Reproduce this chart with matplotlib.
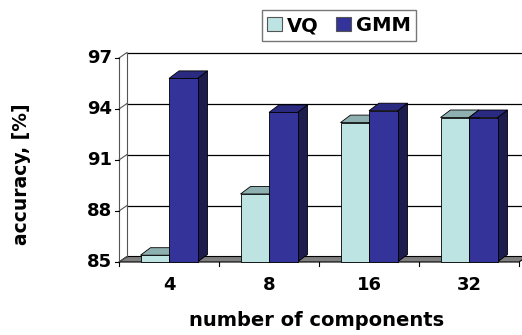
import matplotlib
matplotlib.use("Agg")
import matplotlib.pyplot as plt
from matplotlib.patches import Polygon, Rectangle
from matplotlib.lines import Line2D

categories = ["4", "8", "16", "32"]
series_names = ["VQ", "GMM"]
vq_values = [85.4, 89.0, 93.2, 93.5]
gmm_values = [95.8, 93.8, 93.9, 93.5]
y_ticks = [85, 88, 91, 94, 97]

FRONT = {"VQ": "#BEE3E3", "GMM": "#333399"}
TOP = {"VQ": "#8FB0B0", "GMM": "#2A2A80"}
SIDE = {"VQ": "#7A9A9A", "GMM": "#1C1C4E"}
EDGE = "black"

plt.rcParams["font.family"] = ["DejaVu Sans"]
plt.rcParams["font.weight"] = "bold"

W, H = 522, 335
fig = plt.figure(figsize=(W / 100, H / 100), dpi=100)
# axes box in pixels: left 119, right 519, y(85)=262, y(97)=58
left_px, right_px, bot_px, top_px = 119, 519, 262, 58
ax = fig.add_axes([left_px / W, (H - bot_px) / H,
                   (right_px - left_px) / W, (bot_px - top_px) / H])
ymin, ymax = y_ticks[0], y_ticks[-1]
ncat = len(categories)
ax.set_xlim(0, ncat)
ax.set_ylim(ymin, ymax)
for s in ax.spines.values():
    s.set_visible(False)

px_x = ncat / (right_px - left_px)          # data units per pixel (x)
px_y = (ymax - ymin) / (bot_px - top_px)    # data units per pixel (y)

# depth offsets (pixels) for the walls/floor and for the columns
wall_dx, wall_dy = 8 * px_x, 5.5 * px_y
bar_dx, bar_dy = 10 * px_x, 7.5 * px_y

# floor
floor = Polygon([(0, ymin), (ncat, ymin), (ncat + wall_dx, ymin + wall_dy),
                 (wall_dx, ymin + wall_dy)], closed=True,
                facecolor="#808080", edgecolor=EDGE, lw=0.8, clip_on=False, zorder=1)
ax.add_patch(floor)

# back wall grid lines and left wall
ext = ncat + 0.2
for v in y_ticks[1:]:
    ax.add_line(Line2D([wall_dx, ext], [v + wall_dy, v + wall_dy], color=EDGE, lw=0.9,
                       clip_on=False, zorder=1))
for v in y_ticks:
    ax.add_line(Line2D([0, wall_dx], [v, v + wall_dy], color="#555555", lw=0.8,
                       clip_on=False, zorder=1))
ax.add_line(Line2D([wall_dx, wall_dx], [ymin + wall_dy, ymax + wall_dy], color="#555555",
                   lw=0.8, clip_on=False, zorder=1))
ax.add_line(Line2D([0, 0], [ymin, ymax], color="#555555", lw=0.8, clip_on=False, zorder=1))

# front axis tick marks
for v in y_ticks:
    ax.add_line(Line2D([-4 * px_x, 0], [v, v], color=EDGE, lw=0.8, clip_on=False))
for i in range(ncat + 1):
    ax.add_line(Line2D([i, i], [ymin, ymin - 4 * px_y], color=EDGE, lw=0.8, clip_on=False))

ax.set_xticks([])
ax.set_yticks([])
for v in y_ticks:
    ax.text(-7 * px_x, v, str(v), ha="right", va="center", fontsize=13, fontweight="bold")
for i, c in enumerate(categories):
    ax.text(i + 0.5, ymin - 23 * px_y, c, ha="center", va="center", fontsize=13,
            fontweight="bold")

bar_w = 0.285
for i in range(ncat):
    for j, (name, vals) in enumerate(zip(series_names, [vq_values, gmm_values])):
        v = vals[i]
        x0 = i + 0.5 - bar_w + j * bar_w
        x1 = x0 + bar_w
        z = 3 + i * 2 + j
        ax.add_patch(Polygon([(x1, ymin), (x1 + bar_dx, ymin + bar_dy),
                              (x1 + bar_dx, v + bar_dy), (x1, v)], closed=True,
                             facecolor=SIDE[name], edgecolor=EDGE, lw=0.6, zorder=z,
                             clip_on=False))
        ax.add_patch(Polygon([(x0, v), (x0 + bar_dx, v + bar_dy), (x1 + bar_dx, v + bar_dy),
                              (x1, v)], closed=True, facecolor=TOP[name], edgecolor=EDGE,
                             lw=0.6, zorder=z, clip_on=False))
        ax.add_patch(Rectangle((x0, ymin), bar_w, v - ymin, facecolor=FRONT[name],
                               edgecolor=EDGE, lw=0.6, zorder=z, clip_on=False))

# legend
handles = [Rectangle((0, 0), 1, 1, facecolor=FRONT[n], edgecolor="#555555", lw=0.8)
           for n in series_names]
leg = fig.legend(handles, series_names, loc="center", bbox_to_anchor=(339 / W, 1 - 25.5 / H),
                 ncol=2, frameon=True, fancybox=False, edgecolor="#555555",
                 prop={"size": 14, "weight": "bold"}, handlelength=0.75, handleheight=0.75,
                 handletextpad=0.25, columnspacing=0.9, borderpad=0.3, borderaxespad=0)
leg.get_frame().set_linewidth(1.0)

fig.text(22 / W, 1 - 174 / H, "accuracy, [%]", rotation=90, ha="center", va="center",
         fontsize=13.5, fontweight="bold")
fig.text(317 / W, 1 - 320 / H, "number of components", ha="center", va="center",
         fontsize=14, fontweight="bold")

fig.savefig("out.png", dpi=100)
